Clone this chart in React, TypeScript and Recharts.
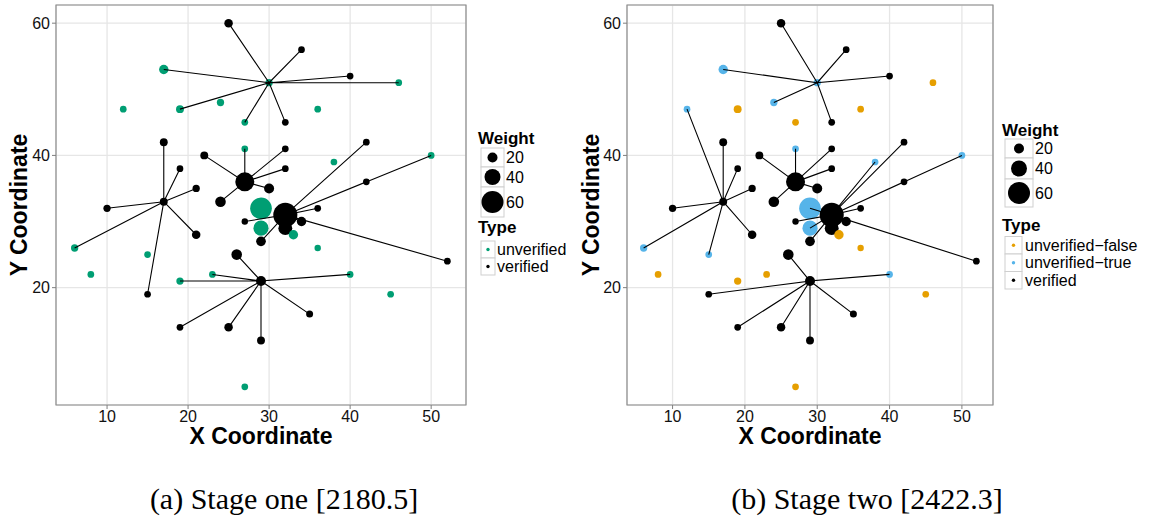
import { ScatterChart, Scatter, XAxis, YAxis, CartesianGrid, ReferenceArea } from 'recharts';

const X_DOMAIN = [3.7, 54.3];
const Y_DOMAIN = [2.25, 62.75];
const xTicks = [10, 20, 30, 40, 50];
const yTicks = [20, 40, 60];
const xMinor = [5, 15, 25, 35, 45];
const yMinor = [10, 30, 50];
const weightLegend = [20, 40, 60];

// [x, y, weight]
const verified = [
  [25, 60, 15], [34, 56, 9], [40, 52, 9], [32, 45, 9], [17, 42, 13], [22, 40, 13],
  [32, 41, 9], [42, 42, 9], [19, 38, 9], [32, 38, 9], [27, 36, 50], [21, 35, 11],
  [30, 35, 20], [42, 36, 9], [17, 33, 13], [24, 33, 22], [10, 32, 11], [36, 32, 9],
  [32, 31, 67], [27, 30, 8], [34, 30, 18], [32, 29, 33], [21, 28, 15], [29, 27, 19],
  [26, 25, 22], [52, 24, 9], [29, 21, 20], [15, 19, 9], [35, 16, 10], [19, 14, 9],
  [25, 14, 15], [29, 12, 13],
];

// stage one: a single unverified class
const unverifiedA = [
  [17, 53, 18], [30, 51, 11], [46, 51, 9], [12, 47, 9], [19, 47, 13], [24, 48, 11],
  [36, 47, 9], [27, 45, 9], [27, 41, 9], [38, 39, 9], [50, 40, 9], [29, 32, 59],
  [29, 29, 37], [33, 28, 18], [6, 26, 11], [36, 26, 8], [15, 25, 9], [8, 22, 9],
  [23, 22, 9], [40, 22, 9], [19, 21, 11], [45, 19, 9], [27, 5, 9],
];

// stage two: unverified split in false / true
const unverifiedFalseB = [
  [19, 47, 13], [27, 45, 9], [36, 47, 9], [46, 51, 9], [33, 28, 18], [36, 26, 8],
  [8, 22, 9], [23, 22, 9], [19, 21, 11], [45, 19, 9], [27, 5, 9],
];
const unverifiedTrueB = [
  [17, 53, 18], [30, 51, 11], [12, 47, 9], [24, 48, 11], [27, 41, 9], [38, 39, 9],
  [50, 40, 9], [29, 32, 59], [29, 29, 37], [6, 26, 11], [15, 25, 9], [40, 22, 9],
];

// hub -> assigned points
const starsA = [
  { hub: [30, 51], to: [[25, 60], [17, 53], [19, 47], [34, 56], [40, 52], [46, 51], [32, 45], [27, 45]] },
  { hub: [27, 36], to: [[27, 41], [22, 40], [32, 41], [32, 38], [30, 35], [24, 33]] },
  { hub: [17, 33], to: [[17, 42], [19, 38], [21, 35], [10, 32], [6, 26], [15, 19], [21, 28]] },
  { hub: [32, 31], to: [[42, 42], [50, 40], [42, 36], [36, 32], [34, 30], [52, 24], [27, 30], [32, 29], [29, 27]] },
  { hub: [29, 21], to: [[26, 25], [19, 21], [23, 22], [19, 14], [25, 14], [29, 12], [35, 16], [40, 22]] },
];
const starsB = [
  { hub: [30, 51], to: [[25, 60], [17, 53], [24, 48], [34, 56], [40, 52], [32, 45]] },
  { hub: [27, 36], to: [[27, 41], [22, 40], [32, 41], [32, 38], [30, 35], [24, 33]] },
  { hub: [17, 33], to: [[17, 42], [19, 38], [21, 35], [10, 32], [6, 26], [15, 25], [21, 28], [12, 47]] },
  { hub: [32, 31], to: [[42, 42], [38, 39], [50, 40], [42, 36], [36, 32], [34, 30], [52, 24], [27, 30], [29, 27], [29, 32], [29, 29], [32, 29]] },
  { hub: [29, 21], to: [[26, 25], [15, 19], [19, 14], [25, 14], [29, 12], [35, 16], [40, 22]] },
];

const GREEN = '#009E73';
const ORANGE = '#E69F00';
const BLUE = '#56B4E9';
const SANS = '"Liberation Sans", Arial, Helvetica, sans-serif';

const radius = (w: number) => 2 + 0.15 * w;
const toPts = (arr: number[][]) => arr.map(([x, y, w]) => ({ x, y, w }));
const starPath = (s: { hub: number[]; to: number[][] }) =>
  s.to.flatMap((p) => [{ x: s.hub[0], y: s.hub[1] }, { x: p[0], y: p[1] }]);

const dot = (color: string) => (props: any) => (
  <circle cx={props.cx} cy={props.cy} r={radius(props.payload?.w ?? 9)} fill={color} />
);

function Panel({ left, plotWidth, groups, stars }: {
  left: number;
  plotWidth: number;
  groups: { data: number[][]; color: string }[];
  stars: { hub: number[]; to: number[][] }[];
}) {
  return (
    <div style={{ position: 'absolute', left, top: 0 }}>
      <ScatterChart width={56 + plotWidth + 4} height={440} margin={{ top: 5, right: 4, bottom: 5, left: 30 }}>
        <CartesianGrid
          stroke="#f4f4f4"
          strokeWidth={1}
          verticalCoordinatesGenerator={({ xAxis }: any) =>
            typeof xAxis?.scale === 'function' ? xMinor.map((v) => xAxis.scale(v)) : []}
          horizontalCoordinatesGenerator={({ yAxis }: any) =>
            typeof yAxis?.scale === 'function' ? yMinor.map((v) => yAxis.scale(v)) : []}
        />
        <CartesianGrid stroke="#e6e6e6" strokeWidth={1.3} />
        <XAxis
          type="number"
          dataKey="x"
          domain={X_DOMAIN}
          ticks={xTicks}
          allowDataOverflow
          axisLine={false}
          tickLine={{ stroke: '#7f7f7f' }}
          tickSize={4}
          tickMargin={2}
          height={30}
          tick={{ fill: '#111', fontSize: 16, fontFamily: SANS }}
        />
        <YAxis
          type="number"
          dataKey="y"
          domain={Y_DOMAIN}
          ticks={yTicks}
          allowDataOverflow
          axisLine={false}
          tickLine={{ stroke: '#7f7f7f' }}
          tickSize={4}
          tickMargin={2}
          width={26}
          tick={{ fill: '#111', fontSize: 16, fontFamily: SANS }}
        />
        <ReferenceArea
          x1={X_DOMAIN[0]}
          x2={X_DOMAIN[1]}
          y1={Y_DOMAIN[0]}
          y2={Y_DOMAIN[1]}
          fill="none"
          stroke="#8c8c8c"
          strokeWidth={1.2}
          ifOverflow="visible"
        />
        <Scatter data={toPts(verified)} fill="#000" shape={dot('#000')} isAnimationActive={false} />
        {groups.map((g, i) => (
          <Scatter key={i} data={toPts(g.data)} fill={g.color} shape={dot(g.color)} isAnimationActive={false} />
        ))}
        {stars.map((s, i) => (
          <Scatter
            key={'s' + i}
            data={starPath(s)}
            line={{ stroke: '#000', strokeWidth: 1.1 }}
            shape={() => <g />}
            isAnimationActive={false}
          />
        ))}
      </ScatterChart>
    </div>
  );
}

function Legend({ x, weightTop, rows, boxW, labelX, typeTop, typeRows, typeBoxW, typeLabelX, types }: {
  x: number; weightTop: number; rows: number[]; boxW: number; labelX: number;
  typeTop: number; typeRows: number[]; typeBoxW: number; typeLabelX: number;
  types: { label: string; color: string }[];
}) {
  return (
    <g fontFamily={SANS}>
      <text x={x} y={weightTop} fontSize={17} fontWeight="bold">Weight</text>
      {weightLegend.map((w, i) => {
        const cy = (rows[i] + rows[i + 1]) / 2;
        return (
          <g key={w}>
            <rect x={x + 3} y={rows[i]} width={boxW} height={rows[i + 1] - rows[i]} fill="#fff" stroke="#cfcfcf" />
            <circle cx={x + 3 + boxW / 2} cy={cy} r={radius(w)} fill="#000" />
            <text x={labelX} y={cy + 5.5} fontSize={16}>{w}</text>
          </g>
        );
      })}
      <text x={x} y={typeTop} fontSize={17} fontWeight="bold">Type</text>
      {types.map((t, i) => {
        const cy = (typeRows[i] + typeRows[i + 1]) / 2;
        return (
          <g key={t.label}>
            <rect x={x + 3} y={typeRows[i]} width={typeBoxW} height={typeRows[i + 1] - typeRows[i]} fill="#fff" stroke="#cfcfcf" />
            <circle cx={x + 3 + typeBoxW / 2} cy={cy} r={1.7} fill={t.color} />
            <text x={typeLabelX} y={cy + 5.5} fontSize={16}>{t.label}</text>
          </g>
        );
      })}
    </g>
  );
}

export default function App() {
  return (
    <div style={{ position: 'absolute', left: 0, top: 0, width: 1151, height: 527, background: '#fff', fontFamily: SANS }}>
      <Panel left={0} plotWidth={410} groups={[{ data: unverifiedA, color: GREEN }]} stars={starsA} />
      <Panel
        left={571}
        plotWidth={366}
        groups={[{ data: unverifiedFalseB, color: ORANGE }, { data: unverifiedTrueB, color: BLUE }]}
        stars={starsB}
      />
      <svg width={1151} height={527} style={{ position: 'absolute', left: 0, top: 0, pointerEvents: 'none' }}>
        <g fontFamily={SANS} fontWeight="bold" fontSize={23} textAnchor="middle">
          <text x={261} y={444}>X Coordinate</text>
          <text x={810} y={444}>X Coordinate</text>
          <text transform="translate(27,205) rotate(-90)">Y Coordinate</text>
          <text transform="translate(599,205) rotate(-90)">Y Coordinate</text>
        </g>
        <Legend
          x={478} weightTop={144} rows={[148, 167, 187, 217]} boxW={23} labelX={506}
          typeTop={233} typeRows={[241, 258, 275]} typeBoxW={14} typeLabelX={497}
          types={[{ label: 'unverified', color: GREEN }, { label: 'verified', color: '#000' }]}
        />
        <Legend
          x={1002} weightTop={136} rows={[139, 158, 179, 207]} boxW={28} labelX={1035}
          typeTop={231} typeRows={[236.5, 254, 271.5, 289]} typeBoxW={17} typeLabelX={1025}
          types={[
            { label: 'unverified\u2212false', color: ORANGE },
            { label: 'unverified\u2212true', color: BLUE },
            { label: 'verified', color: '#000' },
          ]}
        />
        <g fontFamily='"Liberation Serif", "DejaVu Serif", serif' fontSize={30} textAnchor="middle">
          <text x={284} y={509}>(a) Stage one [2180.5]</text>
          <text x={867} y={509}>(b) Stage two [2422.3]</text>
        </g>
      </svg>
    </div>
  );
}
